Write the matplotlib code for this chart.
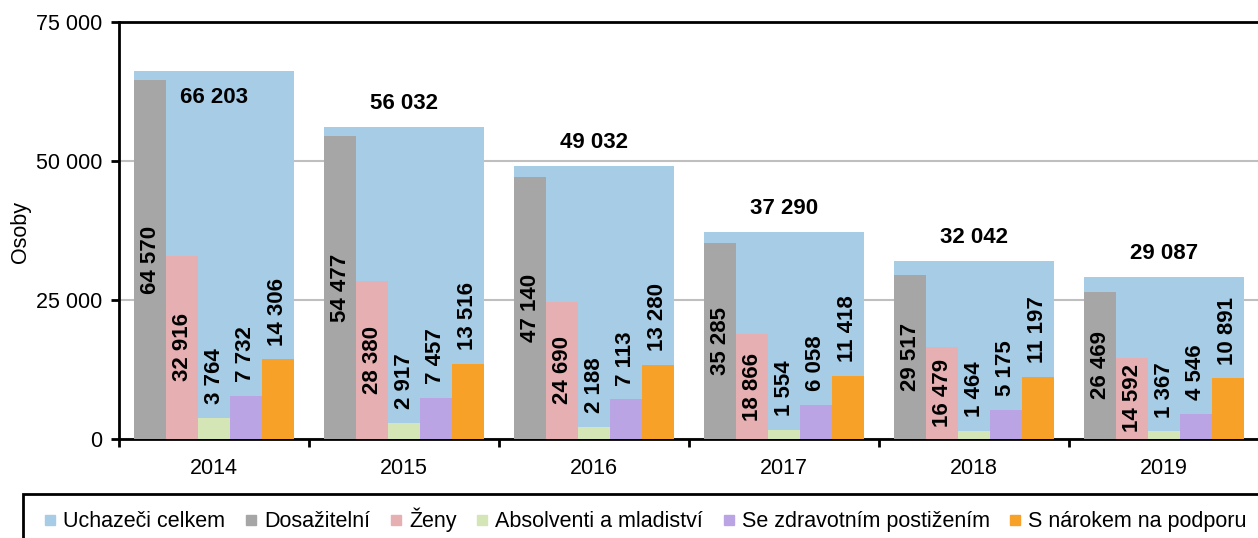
import matplotlib
matplotlib.use("Agg")
import matplotlib.pyplot as plt
from matplotlib.lines import Line2D
from matplotlib.patches import Rectangle
import numpy as np

plt.rcParams['font.family'] = ['Liberation Sans', 'DejaVu Sans']

years = ["2014", "2015", "2016", "2017", "2018", "2019"]
celkem = [66203, 56032, 49032, 37290, 32042, 29087]
dosazitelni = [64570, 54477, 47140, 35285, 29517, 26469]
zeny = [32916, 28380, 24690, 18866, 16479, 14592]
absolventi = [3764, 2917, 2188, 1554, 1464, 1367]
zdrav = [7732, 7457, 7113, 6058, 5175, 4546]
narok = [14306, 13516, 13280, 11418, 11197, 10891]

series_names = ["Uchazeči celkem", "Dosažitelní", "Ženy", "Absolventi a mladiství",
                "Se zdravotním postižením", "S nárokem na podporu"]
colors = ["#A6CCE6", "#A6A6A6", "#E6B0B3", "#D4E6B5", "#BBA4E3", "#F7A128"]

def fmt(v):
    return f"{v:,}".replace(",", " ")

W, H = 1258, 538
fig = plt.figure(figsize=(W / 100, H / 100), dpi=100)
ax = fig.add_axes([119 / W, 1 - 439 / H, 1140 / W, 417 / H])

x = np.arange(len(years))
bw = 0.168
blue_w = 5 * bw

ax.set_axisbelow(True)
ax.yaxis.grid(True, color="#BFBFBF", lw=1.5)

ax.bar(x, celkem, width=blue_w, color=colors[0], zorder=2)
small = [dosazitelni, zeny, absolventi, zdrav, narok]
for i, vals in enumerate(small):
    pos = x + (i - 2) * bw
    ax.bar(pos, vals, width=bw, color=colors[i + 1], zorder=3)
    for p, v in zip(pos, vals):
        if i < 2:
            ax.text(p, v / 2, fmt(v), rotation=90, ha="center", va="center",
                    fontsize=16, fontweight="bold", zorder=5)
        else:
            ax.annotate(fmt(v), (p, v), xytext=(0, 10), textcoords="offset points",
                        rotation=90, ha="center", va="bottom",
                        fontsize=16, fontweight="bold", zorder=5)

ymax = 75000
for xi, v in zip(x, celkem):
    off = -19 if v > 0.85 * ymax else 17
    ax.annotate(fmt(v), (xi, v), xytext=(0, off), textcoords="offset points",
                ha="center", va="center", fontsize=16, fontweight="bold", zorder=5)

ax.set_ylim(0, ymax)
ax.set_xlim(-0.5, len(years) - 0.5)
ax.set_yticks([0, 25000, 50000, 75000])
ax.set_yticklabels([fmt(v) for v in [0, 25000, 50000, 75000]], fontsize=15.5)
ax.set_xticks(x)
ax.set_xticklabels(years, fontsize=15.5)
ax.set_xticks(np.arange(-0.5, len(years)), minor=True)
ax.tick_params(axis="x", which="major", length=0, pad=14)
ax.tick_params(axis="x", which="minor", length=6, width=2, direction="out")
ax.tick_params(axis="y", length=6, width=2, direction="out", pad=6)

for s in ["left", "bottom", "top"]:
    ax.spines[s].set_linewidth(2)
    ax.spines[s].set_color("black")
ax.spines["right"].set_visible(False)

fig.text(20 / W, 1 - 232 / H, "Osoby", rotation=90, ha="center", va="center", fontsize=15.5)

# legend frame (extends past figure edge)
fig.patches.append(Rectangle((23 / W, -0.1), 1.2, 1 - 494 / H + 0.1,
                             transform=fig.transFigure, fill=False,
                             edgecolor="black", lw=2))
handles = [Line2D([], [], ls="none", marker="s", markersize=7.5,
                  markerfacecolor=c, markeredgecolor=c) for c in colors]
fig.legend(handles, series_names, loc="center left",
           bbox_to_anchor=(44 / W, 1 - 520 / H), ncol=6, frameon=False,
           fontsize=15.5, handlelength=0.6, handletextpad=0.3,
           columnspacing=0.9, borderpad=0, borderaxespad=0)

fig.savefig("out.png", dpi=100)
